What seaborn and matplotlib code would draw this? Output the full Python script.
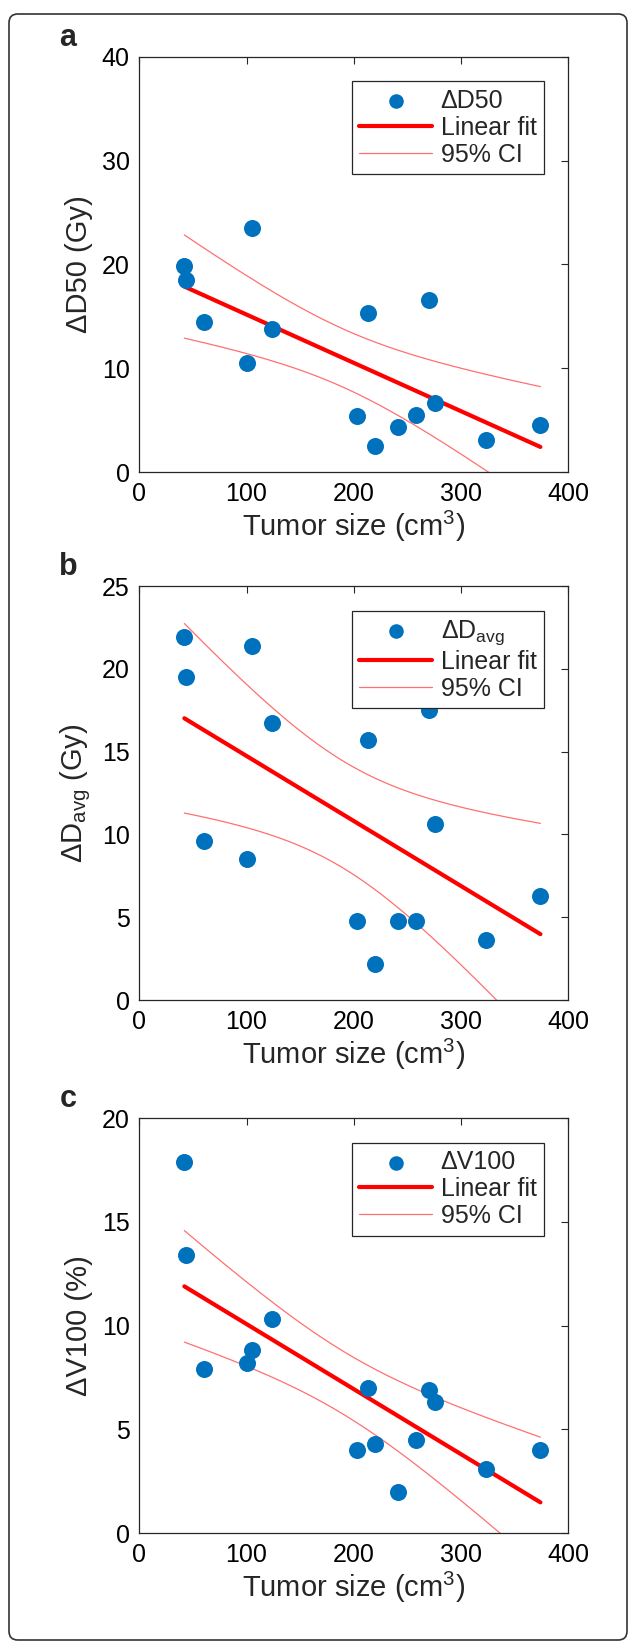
import matplotlib
matplotlib.use('Agg')
import matplotlib.pyplot as plt
import numpy as np
import pandas as pd
import seaborn as sns
from matplotlib.patches import FancyBboxPatch

# values
TUMOR_SIZE = [42, 44, 60, 105, 100, 124, 203, 213, 220, 241, 258, 270, 276, 323, 374]
D50 = [19.9, 18.5, 14.5, 23.5, 10.5, 13.8, 5.4, 15.3, 2.5, 4.4, 5.5, 16.6, 6.7, 3.1, 4.6]
DAVG = [21.9, 19.5, 9.6, 21.4, 8.5, 16.7, 4.8, 15.7, 2.2, 4.8, 4.8, 17.5, 10.6, 3.6, 6.3]
V100 = [17.9, 13.4, 7.9, 8.8, 8.2, 10.3, 4.0, 7.0, 4.3, 2.0, 4.5, 6.9, 6.3, 3.1, 4.0]

PANELS = ['a', 'b', 'c']
SERIES_LABELS = ['ΔD50', 'ΔD$_{avg}$', 'ΔV100']
Y_LABELS = ['ΔD50 (Gy)', 'ΔD$_{avg}$ (Gy)', 'ΔV100 (%)']
Y_TICKS = [[0, 10, 20, 30, 40], [0, 5, 10, 15, 20, 25], [0, 5, 10, 15, 20]]
X_TICKS = [0, 100, 200, 300, 400]
X_LABEL = 'Tumor size (cm$^3$)'

BLUE = '#0072BD'
RED = '#FF0000'
CI_RED = '#FF7070'
AX_GRAY = '#262626'
T_975 = 2.160  # t quantile, 13 dof

W, H = 630, 1644
# axes boxes in pixels: left, top, right, bottom
AX_BOXES = [(139.3, 56.7, 568.3, 472.3), (139.3, 586, 568.3, 1000), (139.3, 1118, 568.3, 1533)]


def fit_band(x, y):
    x = np.asarray(x, float)
    y = np.asarray(y, float)
    slope, icpt = np.polyfit(x, y, 1)
    n = len(x)
    resid = y - (slope * x + icpt)
    s = np.sqrt(np.sum(resid ** 2) / (n - 2))
    sxx = np.sum((x - x.mean()) ** 2)
    grid = np.linspace(x.min(), x.max(), 200)
    fit = slope * grid + icpt
    half = T_975 * s * np.sqrt(1 / n + (grid - x.mean()) ** 2 / sxx)
    return pd.DataFrame({'x': grid, 'fit': fit, 'upper': fit + half, 'lower': fit - half})


def draw_panel(ax, y, series_label, y_label, y_ticks):
    df = pd.DataFrame({'size': TUMOR_SIZE, 'value': y})
    band = fit_band(TUMOR_SIZE, y)
    sns.lineplot(ax=ax, data=band, x='x', y='upper', color=CI_RED, lw=0.9, sort=False,
                 estimator=None, label='95% CI', zorder=2)
    sns.lineplot(ax=ax, data=band, x='x', y='lower', color=CI_RED, lw=0.9, sort=False,
                 estimator=None, zorder=2)
    sns.lineplot(ax=ax, data=band, x='x', y='fit', color=RED, lw=3.0, sort=False,
                 estimator=None, label='Linear fit', zorder=3)
    sns.scatterplot(ax=ax, data=df, x='size', y='value', color=BLUE, s=150, linewidth=0,
                    label=series_label, zorder=4)
    ax.set_xlim(0, 400)
    ax.set_ylim(y_ticks[0], y_ticks[-1])
    ax.set_xticks(X_TICKS)
    ax.set_yticks(y_ticks)
    ax.set_xlabel(X_LABEL, fontsize=21, labelpad=2)
    ax.set_ylabel(y_label, fontsize=21, labelpad=6)
    ax.tick_params(direction='in', length=5, width=0.8, colors=AX_GRAY, labelcolor='black',
                   labelsize=18, top=True, right=True, pad=7)
    for sp in ax.spines.values():
        sp.set_visible(True)
        sp.set_color(AX_GRAY)
        sp.set_linewidth(0.9)

    handles, labels = ax.get_legend_handles_labels()
    order = [labels.index(series_label), labels.index('Linear fit'), labels.index('95% CI')]
    leg = ax.legend([handles[i] for i in order], [labels[i] for i in order],
                    loc='upper right', bbox_to_anchor=(0.9434, 0.9408), borderaxespad=0,
                    fontsize=18, frameon=True, fancybox=False, framealpha=1,
                    edgecolor=AX_GRAY, handlelength=2.9, handletextpad=0.35,
                    labelspacing=0.12, borderpad=0.3)
    leg.get_frame().set_linewidth(0.9)
    leg.legend_handles[0].set_sizes([110])


def main():
    sns.set_theme(style='white')
    plt.rcParams['font.family'] = ['Liberation Sans', 'DejaVu Sans']
    plt.rcParams['mathtext.default'] = 'regular'

    fig = plt.figure(figsize=(W / 100, H / 100), dpi=100)
    values = [D50, DAVG, V100]
    for i, panel in enumerate(PANELS):
        l, t, r, b = AX_BOXES[i]
        ax = fig.add_axes([l / W, 1 - b / H, (r - l) / W, (b - t) / H])
        draw_panel(ax, values[i], SERIES_LABELS[i], Y_LABELS[i], Y_TICKS[i])
        fig.text(68 / W, 1 - (t - 19) / H, panel, fontsize=22, fontweight='bold',
                 ha='center', va='center')

    border = FancyBboxPatch((9 / W, 4 / H), 618 / W, 1626 / H,
                            boxstyle='round,pad=0,rounding_size=0.014',
                            transform=fig.transFigure, fill=False, edgecolor='#333333',
                            linewidth=1.2, mutation_aspect=W / H)
    fig.patches.append(border)
    fig.savefig('out.png', dpi=100)


if __name__ == '__main__':
    main()
